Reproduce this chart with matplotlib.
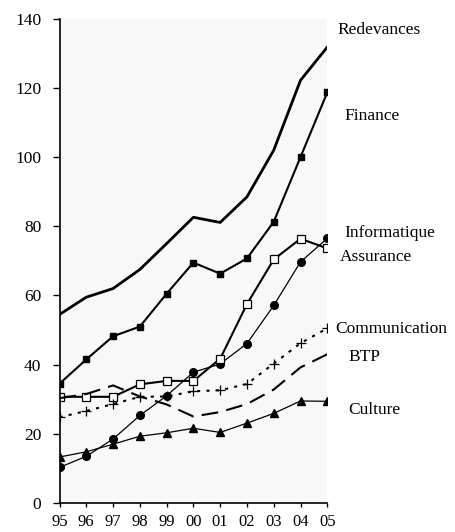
import matplotlib
matplotlib.use("Agg")
import matplotlib.pyplot as plt

years = ["95", "96", "97", "98", "99", "00", "01", "02", "03", "04", "05"]
redevances = [54.5, 59.5, 62.0, 67.5, 75.0, 82.6, 81.1, 88.5, 102.0, 122.2, 131.8]
finance = [34.5, 41.5, 48.2, 51.0, 60.5, 69.5, 66.3, 70.7, 81.3, 100.0, 118.7]
informatique = [10.3, 13.5, 18.5, 25.3, 31.0, 37.8, 40.2, 46.1, 57.1, 69.7, 76.5]
assurance = [30.7, 30.7, 30.7, 34.3, 35.3, 35.3, 41.7, 57.5, 70.4, 76.4, 73.6]
communication = [24.8, 26.6, 28.6, 30.7, 30.8, 32.3, 32.6, 34.4, 40.3, 46.2, 50.5]
btp = [30.3, 31.5, 34.0, 30.8, 28.5, 25.0, 26.3, 28.6, 32.8, 39.2, 43.0]
culture = [13.3, 14.8, 17.0, 19.3, 20.3, 21.6, 20.4, 23.1, 25.9, 29.5, 29.4]

series_labels = ["Redevances", "Finance", "Informatique", "Assurance",
                 "Communication", "BTP", "Culture"]
label_y = [136.8, 112.0, 78.0, 71.0, 50.3, 42.2, 27.0]
label_dx = [0.39, 0.65, 0.65, 0.47, 0.28, 0.8, 0.8]

plt.rcParams['font.family'] = ['Liberation Serif', 'DejaVu Serif']

fig = plt.figure(figsize=(4.55, 5.32), dpi=100)
ax = fig.add_axes([0.1308, 0.0545, 0.7193 - 0.1308, 0.9648 - 0.0545])
ax.set_facecolor('#f8f8f8')

x = list(range(len(years)))
ax.plot(x, redevances, color='black', lw=2.0)
ax.plot(x, finance, color='black', lw=1.5, marker='s', ms=5)
ax.plot(x, informatique, color='black', lw=0.9, marker='o', ms=5.5)
ax.plot(x, assurance, color='black', lw=1.5, marker='s', ms=6, mfc='white', mew=0.9)
ax.plot(x, communication, color='black', lw=1.5, ls=(0, (1.5, 3)), marker='+', ms=7, mew=0.9)
ax.plot(x, btp, color='black', lw=1.5, ls=(0, (8, 4)))
ax.plot(x, culture, color='black', lw=0.9, marker='^', ms=6)

for lab, yv, dx in zip(series_labels, label_y, label_dx):
    ax.text(x[-1] + dx, yv, lab, fontsize=12.5, va='center', ha='left', clip_on=False)

ax.set_xlim(0, 10)
ax.set_ylim(0, 140)
ax.set_xticks(x)
ax.set_xticklabels(years)
ax.set_yticks(range(0, 141, 20))
ax.tick_params(axis='y', labelsize=12.5, length=5, width=1, pad=8)
ax.tick_params(axis='x', labelsize=12, length=3, width=1, pad=5)
ax.spines['top'].set_visible(False)
ax.spines['right'].set_visible(False)
ax.spines['left'].set_linewidth(1.2)
ax.spines['bottom'].set_linewidth(1.2)

fig.savefig('out.png', dpi=100)
